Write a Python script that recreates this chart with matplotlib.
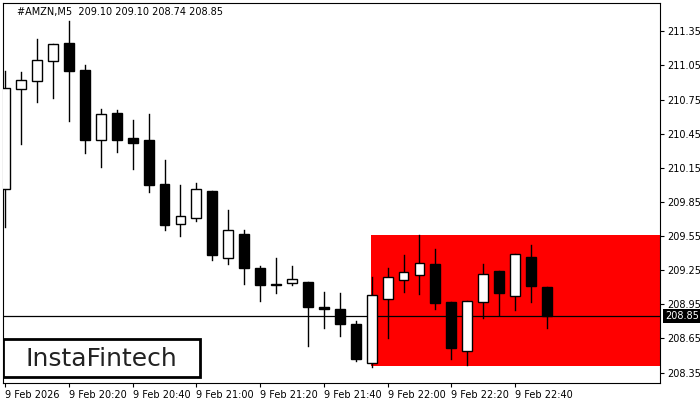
import matplotlib
matplotlib.use("Agg")
import matplotlib.pyplot as plt
from matplotlib.patches import Rectangle

# OHLC, 5-minute candles from 9 Feb 20:00
opens = [209.96, 210.84, 210.91, 211.09, 211.25, 211.01, 210.39, 210.63, 210.41, 210.39,
         210.01, 209.66, 209.71, 209.95, 209.36, 209.57, 209.27, 209.12, 209.14, 209.15,
         208.93, 208.91, 208.78, 208.43, 209.00, 209.16, 209.21, 209.30, 208.97, 208.54,
         208.97, 209.24, 209.02, 209.37, 209.10]
highs = [211.00, 210.99, 211.28, 211.24, 211.44, 211.05, 210.67, 210.66, 210.57, 210.62,
         210.22, 210.00, 210.02, 209.95, 209.78, 209.60, 209.29, 209.36, 209.29, 209.15,
         209.06, 209.05, 208.80, 209.19, 209.27, 209.38, 209.56, 209.44, 208.97, 208.98,
         209.30, 209.24, 209.39, 209.47, 209.10]
lows = [209.63, 210.36, 210.73, 210.76, 210.56, 210.28, 210.16, 210.29, 210.14, 209.94,
        209.60, 209.55, 209.68, 209.34, 209.30, 209.13, 208.98, 209.05, 209.12, 208.58,
        208.74, 208.67, 208.45, 208.40, 208.65, 209.06, 209.04, 208.91, 208.47, 208.42,
        208.83, 208.86, 208.90, 208.97, 208.74]
closes = [210.85, 210.92, 211.10, 211.24, 211.00, 210.39, 210.62, 210.39, 210.37, 210.00,
          209.65, 209.73, 209.96, 209.38, 209.60, 209.27, 209.12, 209.13, 209.17, 208.93,
          208.91, 208.78, 208.47, 209.03, 209.19, 209.23, 209.31, 208.96, 208.57, 208.98,
          209.22, 209.05, 209.39, 209.11, 208.85]
last_price = 208.85
zone_start, zone_top, zone_bottom = 23, 209.56, 208.41
price_ticks = [211.35, 211.05, 210.75, 210.45, 210.15, 209.85, 209.55, 209.25, 208.95, 208.65, 208.35]
time_ticks = [0, 4, 8, 12, 16, 20, 24, 28, 32]
time_labels = ["9 Feb 2026", "9 Feb 20:20", "9 Feb 20:40", "9 Feb 21:00", "9 Feb 21:20",
               "9 Feb 21:40", "9 Feb 22:00", "9 Feb 22:20", "9 Feb 22:40"]

fig = plt.figure(figsize=(7, 4), dpi=100)
ax = fig.add_axes([0.004, 0.043, 0.939, 0.95])
xmax = 41.1
ymin, ymax = 208.26, 211.60

ax.add_patch(Rectangle((zone_start - 0.05, zone_bottom), xmax - zone_start + 0.05,
                       zone_top - zone_bottom, facecolor="#ff0000", edgecolor="none", zorder=1))
ax.axhline(last_price, color="black", lw=0.9, zorder=2)

w = 0.62
for i, (o, h, l, c) in enumerate(zip(opens, highs, lows, closes)):
    ax.plot([i, i], [l, h], color="black", lw=1, zorder=3)
    lo, hi = min(o, c), max(o, c)
    face = "white" if c >= o else "black"
    ax.add_patch(Rectangle((i - w / 2, lo), w, max(hi - lo, 0.012), facecolor=face,
                           edgecolor="black", lw=1, zorder=4))

ax.set_xlim(-0.15, xmax)
ax.set_ylim(ymin, ymax)
ax.yaxis.tick_right()
ax.set_yticks(price_ticks)
ax.set_yticklabels([f"{p:.2f}" for p in price_ticks], fontsize=7)
ax.set_xticks(time_ticks)
ax.set_xticklabels(time_labels, fontsize=7, ha="left")
ax.tick_params(length=3, pad=2)
ax.text(xmax + 0.3, last_price, f"{last_price:.2f}", fontsize=7, color="white", va="center",
        ha="left", bbox=dict(facecolor="black", edgecolor="none", pad=1.5), clip_on=False, zorder=6)
ax.text(0.022, 0.99, "#AMZN,M5  209.10 209.10 208.74 208.85", transform=ax.transAxes,
        fontsize=7, va="top", ha="left")

# logo box
ax.add_patch(Rectangle((0.0, 0.015), 0.30, 0.10, transform=ax.transAxes, facecolor="white",
                       edgecolor="black", lw=2, zorder=7))
ax.text(0.15, 0.063, "InstaFintech", transform=ax.transAxes, fontsize=18, ha="center",
        va="center", color="#222222", fontweight="medium", zorder=8)

fig.savefig("out.png", dpi=100, facecolor="white")
